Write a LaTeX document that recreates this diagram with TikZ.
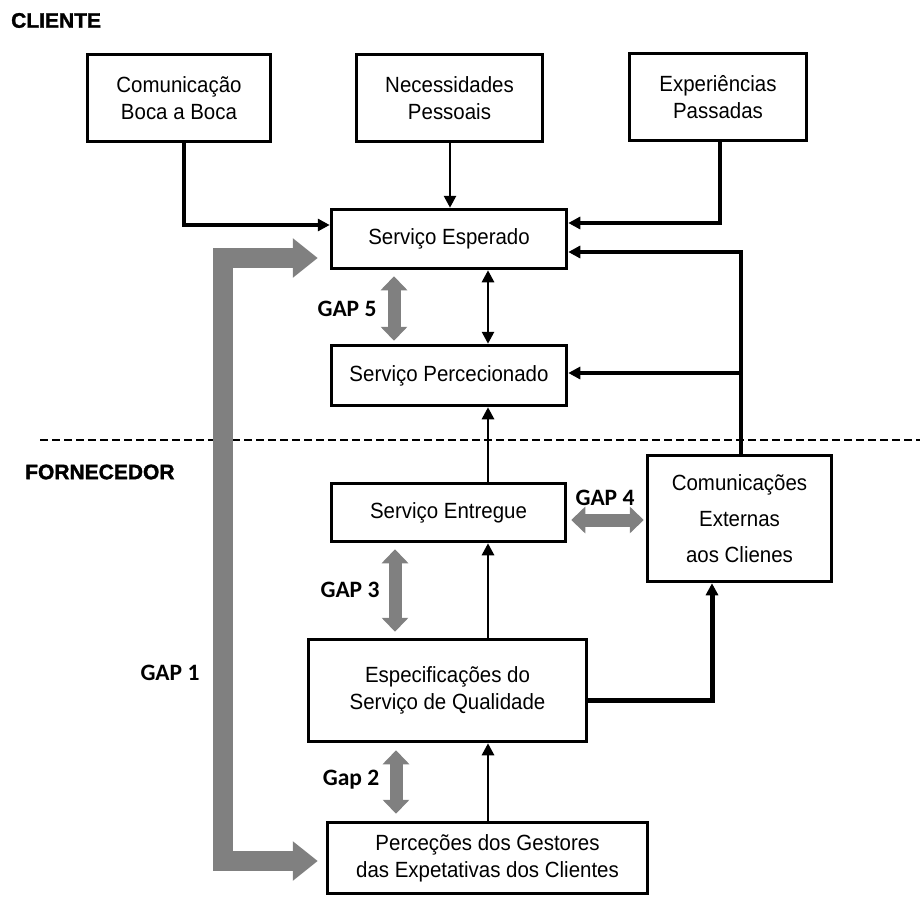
\documentclass[tikz,border=0pt]{standalone}
\usepackage{fontspec}
\usetikzlibrary{arrows.meta}
\setmainfont{Liberation Sans}[FakeStretch=0.93]
\newfontfamily\gapfam{Carlito}
\newfontfamily\headfam{Liberation Sans}[BoldFeatures={FakeBold=1.5}]
\newcommand\bxfont{\fontsize{22}{27}\selectfont}
\newcommand\bxfontwide{\fontsize{22}{36}\selectfont}
\newcommand\gapfont{\gapfam\bfseries\fontsize{23.5}{23.5}\selectfont}
\newcommand\hdfont{\headfam\bfseries\fontsize{21}{21}\selectfont}
\definecolor{gapgray}{RGB}{128,128,128}

\begin{document}
\begin{tikzpicture}[x=1pt,y=-1pt,
  box/.style={draw, line width=3.5pt, rectangle, inner sep=0pt, align=center, font=\bxfont},
  conn/.style={draw=black, line width=#1, -{Triangle[length=12pt,width=12pt]}},
  conn/.default=2.7pt,
  gapbig/.style={draw=gapgray, line width=20pt, line join=miter,
    {Triangle[length=25pt,width=38pt]}-{Triangle[length=25pt,width=38pt]}},
  gapsmall/.style={draw=gapgray, line width=13pt,
    {Triangle[length=14pt,width=26pt]}-{Triangle[length=14pt,width=26pt]}},
  gaplabel/.style={inner sep=0pt, font=\gapfont},
  headlabel/.style={anchor=west, inner sep=0pt, font=\hdfont}]

\useasboundingbox (0,0) rectangle (920,897);

% section titles and the border between them
\node[headlabel] (cli) at (11,20.5) {CLIENTE};
\node[headlabel] (forn) at (25,472) {FORNECEDOR};
\draw[dash pattern=on 8pt off 4pt, line width=1.3pt] (40,440) -- (920,440);

% boxes
\node[box, minimum width=183pt, minimum height=87pt] (boca) at (179,98) {Comunicação\\Boca a Boca};
\node[box, minimum width=186pt, minimum height=87pt] (necess) at (449.5,98) {Necessidades\\Pessoais};
\node[box, minimum width=177pt, minimum height=87pt] (exper) at (718,97) {Experiências\\Passadas};
\node[box, minimum width=235pt, minimum height=59pt] (esper) at (449,239) {Serviço Esperado};
\node[box, minimum width=235pt, minimum height=60pt] (percec) at (449,375.5) {Serviço Percecionado};
\node[box, minimum width=234pt, minimum height=58pt] (entreg) at (448.5,512.5) {Serviço Entregue};
\node[box, minimum width=184pt, minimum height=126pt, font=\bxfontwide] (comext) at (739.5,518.5) {Comunicações\\Externas\\aos Clienes};
\node[box, minimum width=278pt, minimum height=102pt] (espec) at (447.5,690.5) {Especificações do\\Serviço de Qualidade};
\node[box, minimum width=320pt, minimum height=71pt] (percep) at (487.5,858) {Perceções dos Gestores\\das Expetativas dos Clientes};

% helper positions for the connector lanes
\coordinate (xboca) at (184,0);
\coordinate (xnec) at (450,0);
\coordinate (xexp) at (720,0);
\coordinate (xcom) at (741,0);
\coordinate (xmid) at (488,0);
\coordinate (xspec) at (712,0);
\coordinate (yboca) at (0,225);
\coordinate (yexp) at (0,223);
\coordinate (ycom) at (0,252);
\coordinate (yper) at (0,373);
\coordinate (yspec) at (0,700);

% black connectors
\draw[conn=4pt] (boca.south -| xboca) |- (esper.west |- yboca);
\draw[conn] (necess.south -| xnec) -- (esper.north -| xnec);
\draw[conn=4pt] (exper.south -| xexp) |- (esper.east |- yexp);
\draw[conn=4pt] (comext.north -| xcom) |- (esper.east |- ycom);
\draw[conn=4pt] (xcom |- yper) -- (percec.east |- yper);
\draw[conn, {Triangle[length=12pt,width=12pt]}-{Triangle[length=12pt,width=12pt]}] (esper.south -| xmid) -- (percec.north -| xmid);
\draw[conn] (entreg.north -| xmid) -- (percec.south -| xmid);
\draw[conn] (espec.north -| xmid) -- (entreg.south -| xmid);
\draw[conn] (percep.north -| xmid) -- (espec.south -| xmid);
\draw[conn=5pt] (espec.east |- yspec) -| (comext.south -| xspec);

% gap arrows
\coordinate (gx1) at (223,0);
\coordinate (gy1a) at (0,258);
\coordinate (gy1b) at (0,861);
\draw[gapbig, shorten <=12pt, shorten >=8pt] (esper.west |- gy1a) -- (gx1 |- gy1a) -- (gx1 |- gy1b) -- (percep.west |- gy1b);

\coordinate (gx5) at (394,0);
\coordinate (gx3) at (395,0);
\coordinate (gx2) at (396,0);
\coordinate (gy4) at (0,520);
\draw[gapsmall, shorten <=6pt, shorten >=3pt] (esper.south -| gx5) -- (percec.north -| gx5);
\draw[gapsmall, shorten <=6pt, shorten >=6pt] (entreg.south -| gx3) -- (espec.north -| gx3);
\draw[gapsmall, shorten <=7pt, shorten >=7pt] (espec.south -| gx2) -- (percep.north -| gx2);
\draw[gapsmall, shorten <=4pt, shorten >=2pt] (entreg.east |- gy4) -- (comext.west |- gy4);

% gap labels
\node[gaplabel] (lg1) at (170,673) {GAP 1};
\node[gaplabel] (lg2) at (351,780) {Gap 2};
\node[gaplabel] (lg3) at (350,590) {GAP 3};
\node[gaplabel] (lg4) at (605,498) {GAP 4};
\node[gaplabel] (lg5) at (347,309) {GAP 5};
\end{tikzpicture}
\end{document}
